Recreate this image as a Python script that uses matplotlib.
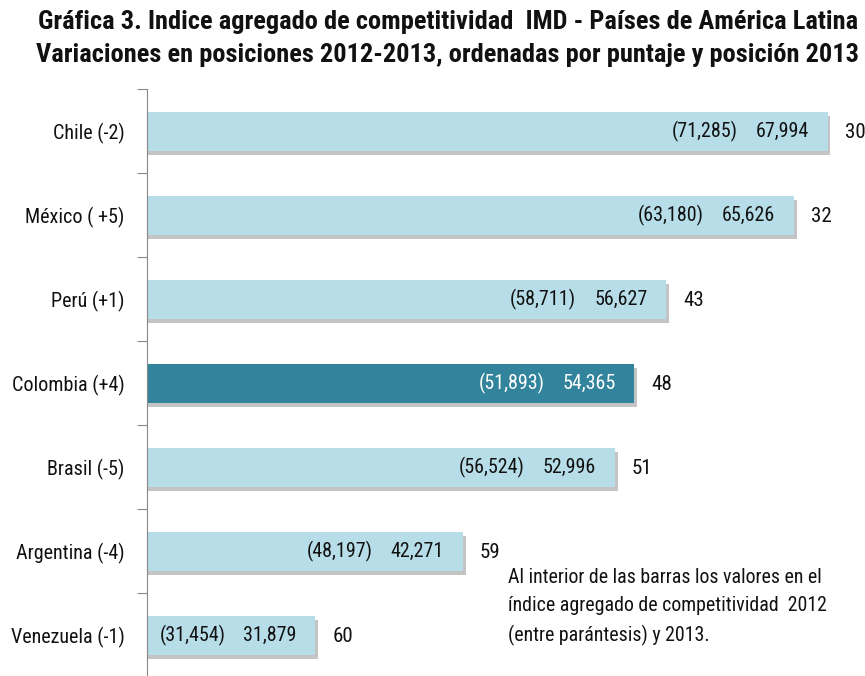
import matplotlib
matplotlib.use("Agg")
import matplotlib.pyplot as plt
import matplotlib.patheffects as pe
from matplotlib import font_manager as fm
from matplotlib.transforms import offset_copy

entries = fm.fontManager.ttflist
names = {f.name for f in entries}
STRETCH = 'normal'
FONT = None
for cand in ['Roboto Condensed', 'Open Sans Condensed', 'Liberation Sans Narrow',
             'DejaVu Sans Condensed', 'Noto Sans Condensed']:
    if cand in names:
        FONT = cand
        break
if FONT is None:
    cond = [f for f in entries if f.name == 'DejaVu Sans' and str(f.stretch) in
            ('condensed', 'semi-condensed', '500', '400', '300')]
    if cond:
        FONT, STRETCH = 'DejaVu Sans', 'condensed'
    elif 'Roboto' in names:
        FONT = 'Roboto'
    else:
        FONT = 'DejaVu Sans'
plt.rcParams['font.family'] = [FONT, 'DejaVu Sans']
plt.rcParams['font.stretch'] = STRETCH

countries = ["Chile (-2)", "México ( +5)", "Perú (+1)", "Colombia (+4)",
             "Brasil (-5)", "Argentina (-4)", "Venezuela (-1)"]
score_2013 = [67.994, 65.626, 56.627, 54.365, 52.996, 42.271, 31.879]
score_2012 = [71.285, 63.180, 58.711, 51.893, 56.524, 48.197, 31.454]
rank_2013 = [30, 32, 43, 48, 51, 59, 60]
highlight = "Colombia (+4)"

title_lines = ["Gráfica 3. Indice agregado de competitividad  IMD - Países de América Latina",
               "Variaciones en posiciones 2012-2013, ordenadas por puntaje y posición 2013"]
note = ("Al interior de las barras los valores en el\n"
        "índice agregado de competitividad  2012\n"
        "(entre parántesis) y 2013.")

LIGHT = "#b7dde8"
DARK = "#31849b"
INK = "#111111"

def fmt(v):
    return f"{v:.3f}".replace(".", ",")

fig = plt.figure(figsize=(8.65, 6.76), dpi=100)
renderer = fig.canvas.get_renderer()

def fit_size(s, target_px, base=20, weight='normal', cap=None):
    t = fig.text(0, 0, s, fontsize=base, fontweight=weight)
    w = t.get_window_extent(renderer).width
    t.remove()
    size = base * target_px / w
    if cap:
        size = min(size, cap)
    return size

TITLE_FS = fit_size(title_lines[1], 826, weight='bold', cap=19)
LABEL_FS = fit_size("Venezuela (-1)", 114, cap=16)
VAL_FS = fit_size("(71,285)", 66, cap=16)
NOTE_FS = fit_size(note.split("\n")[0], 314, cap=16)

ax = fig.add_axes([147/865, -0.002, (856-147)/865, 588/676])

n = len(countries)
ypos = list(range(n))
colors = [DARK if c == highlight else LIGHT for c in countries]
bars = ax.barh(ypos, score_2013, height=0.46, color=colors, zorder=2)
for b in bars:
    b.set_path_effects([pe.SimplePatchShadow(offset=(2, -3), shadow_rgbFace="#8a8a8a", alpha=0.5),
                        pe.Normal()])

ax.set_xlim(20, 70)
ax.set_ylim(n - 0.5, -0.5)

for i, (c, v13, v12, r) in enumerate(zip(countries, score_2013, score_2012, rank_2013)):
    tc = "white" if c == highlight else INK
    t1 = offset_copy(ax.transData, fig=fig, x=-19, y=0, units='dots')
    ax.text(v13, i, fmt(v13), transform=t1, ha='right', va='center', fontsize=VAL_FS, color=tc, zorder=3)
    t2 = offset_copy(ax.transData, fig=fig, x=-90, y=0, units='dots')
    ax.text(v13, i, f"({fmt(v12)})", transform=t2, ha='right', va='center', fontsize=VAL_FS, color=tc, zorder=3)
    t3 = offset_copy(ax.transData, fig=fig, x=17, y=-1, units='dots')
    ax.text(v13, i, str(r), transform=t3, ha='left', va='center', fontsize=VAL_FS * 1.05,
            color=INK, zorder=3)

# ticks: major at boundaries, labels at centres
ax.set_yticks([i - 0.5 for i in range(n + 1)])
ax.set_yticklabels([])
ax.set_yticks(ypos, minor=True)
ax.set_yticklabels(countries, minor=True, fontsize=LABEL_FS, color=INK)
ax.tick_params(axis='y', which='major', length=7, color="#888888", direction='out')
ax.tick_params(axis='y', which='minor', length=0, pad=16)
ax.set_xticks([])
for s in ["top", "right", "bottom"]:
    ax.spines[s].set_visible(False)
ax.spines["left"].set_color("#888888")

fig.text(448/865, 1 - 22/676, title_lines[0], ha='center', va='center', fontsize=TITLE_FS,
         fontweight='bold', color=INK)
fig.text(448/865, 1 - 55/676, title_lines[1], ha='center', va='center', fontsize=TITLE_FS,
         fontweight='bold', color=INK)
fig.text(508/865, 1 - 607/676, note, ha='left', va='center', fontsize=NOTE_FS,
         linespacing=1.6, color=INK)

fig.savefig("out.png", dpi=100)
